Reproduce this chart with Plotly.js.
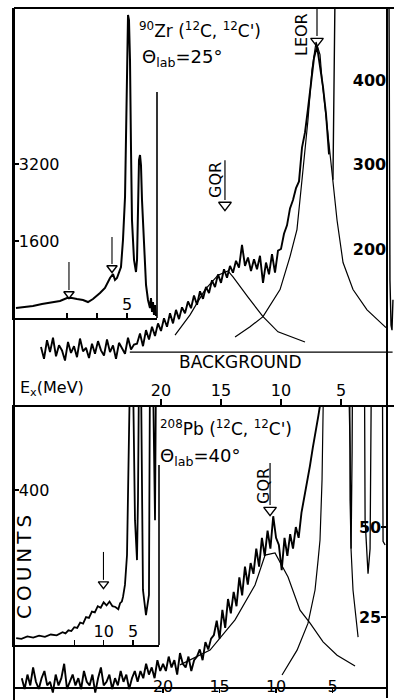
<!DOCTYPE html>
<html><head><meta charset="utf-8">
<script src="https://cdn.plot.ly/plotly-3.0.1.min.js"></script>
<style>html,body{margin:0;padding:0;background:#fff}#chart{width:394px;height:700px}</style>
</head><body><div id="chart"></div>
<script>
// ===== 90Zr(12C,12C') theta_lab = 25 deg =====
// main spectrum: Ex bins (MeV) starting value and bin step, counts per bin
const zrMainStartE = 30.0;
const zrMainBinE = -0.25;
const zrMainCounts = [84,70,92,78,95,73,86,80,68,90,77,85,72,94,79,83,71,88,76,91,80,74,93,78,86,70,89,82,76,95,81,87,
  88,100,85,104,93,108,97,112,
  103,118,108,124,112,128,117,131,
  124,138,130,145,134,150,141,155,
  148,163,155,170,160,176,166,180,
  172,186,178,205,180,190,174,188,
  176,192,160,184,170,194,172,198,
  200,218,228,248,258,272,280,320,338,366,398,426,440,418,392,360,312];
const zrTailE = [5.67, 5.5, 1.0, 0.92, 0.83, 0.75, 0.67];
const zrTailCounts = [282, 500, 500, 163, 110, 104, 140];
const zrGqrFitE = [18.83, 17.58, 16.33, 15.25, 14.42, 14.0, 12.75, 11.5, 10.25, 8.0];
const zrGqrFitCounts = [98, 122, 152, 169, 174, 167, 143, 120, 102, 90];
const zrLeorFitE = [13.83, 12.58, 11.5, 10.08, 9.25, 8.67, 8.25, 7.75, 7.42, 7.08, 6.75, 6.58, 6.17, 5.67, 5.33, 4.83, 4.0, 2.83, 1.25];
const zrLeorFitCounts = [96, 108, 120, 152, 191, 223, 282, 353, 412, 445, 430, 400, 347, 282, 234, 184, 152, 128, 107];
const zrBackgroundE = [22.6, 0.7];
const zrBackgroundCounts = [78, 78];
const zrArrowE = [14.67, 7.0];
const zrArrowTop = [305, 485];
const zrArrowBase = [258, 452];
const zrArrowHead = [252, 446];
const zrMainTicksX = [20, 15, 10, 5];
const zrMainTicksY = [200, 300, 400];
// inset: full spectrum
const zrInsetE = [23.5, 22.0, 20.67, 19.17, 17.83, 16.17, 15.0, 14.17, 13.33, 12.33, 11.5, 10.67, 9.5, 8.67, 7.83, 7.33, 7.0, 6.67, 6.0, 5.67, 5.33, 5.17, 5.0, 4.83, 4.67, 4.5, 4.33, 4.17, 3.83, 3.5, 3.33, 3.17, 3.0, 2.83, 2.67, 2.5, 2.17, 1.83, 1.5, 1.17, 1.0, 0.83, 0.67, 0.5, 0.33, 0.17];
const zrInsetCounts = [208, 229, 249, 291, 312, 353, 416, 416, 395, 374, 332, 395, 520, 623, 831, 914, 790, 831, 1060, 1621, 2514, 4114, 5777, 6296, 6192, 5361, 3491, 2036, 1205, 956, 1205, 2452, 3283, 3387, 3179, 2452, 1413, 686, 374, 208, 416, 125, 332, 62, 270, 42];
const zrInsetArrowE = [14.67, 7.5];
const zrInsetArrowTop = [1164, 1683];
const zrInsetArrowBase = [582, 1122];
const zrInsetArrowHead = [499, 1039];
const zrInsetTicksX = [20, 15, 10, 5];
const zrInsetTickText = ['', '', '', '5'];
const zrInsetTicksY = [1600, 3200];

// ===== 208Pb(12C,12C') theta_lab = 40 deg =====
const pbMainStartE = 32.5;
const pbMainBinE = -0.25;
const pbMainCounts = [8,5,9,6,11,7,5,8,10,6,7,4,9,6,8,12,5,7,9,6,8,5,10,7,6,9,4,8,11,6,7,9,5,8,6,10,7,9,5,8,10,7,
  10,8,12,9,11,8,13,10,
  12,10,14,11,13,9,15,12,11,14,10,13,
  14,16,13,18,16,19,
  20,24,19,27,22,30,26,
  32,28,36,31,39,34,40,
  37,44,39,47,42,
  49,44,53,47,
  45,38,47,42,48,
  44,50,47,54,58,
  62,67,72,76,81,86];
const pbTailE = [5.9, 3.54, 3.45, 3.36, 3.27, 3.19, 2.21, 2.12, 1.86, 1.68, 1.50, 0.62, 0.53, 0.35];
const pbTailCounts = [120, 120, 71, 44, 71, 120, 120, 52, 37, 44, 120, 120, 46, 45];
const pbGqrFitE = [18.5, 15.84, 13.63, 11.86, 10.97, 10.09, 8.94, 7.88, 6.99, 5.84, 4.60, 3.01];
const pbGqrFitCounts = [11.7, 15.8, 24.2, 33.9, 42.2, 42.8, 36.1, 26.9, 23.3, 18.1, 14.4, 11.4];
const pbPeakFitE = [9.47, 8.14, 7.17, 6.55, 6.28, 6.11, 5.93, 5.84, 5.75, 3.63, 3.45, 3.45, 3.36, 3.19, 2.92, 2.74];
const pbPeakFitCounts = [8.9, 15.8, 23.3, 32.5, 40.8, 46.4, 63.1, 74.2, 100, 100, 71.4, 57.5, 43.6, 32.5, 24.2, 19.4];
const pbArrowE = [10.53];
const pbArrowTop = [67.8];
const pbArrowBase = [56.1];
const pbArrowHead = [54.7];
const pbMainTicksX = [20, 15, 10, 5];
const pbMainTicksY = [25, 50];
const pbInsetE = [24.9, 24.0, 23.0, 22.0, 21.0, 20.0, 19.0, 18.0, 17.0, 16.5, 16.0, 15.5, 15.0, 14.5, 14.0, 13.5, 13.0, 12.5, 12.0, 11.5, 11.0, 10.5, 10.0, 9.5, 9.0, 8.5, 8.0, 7.5, 7.2, 6.9, 6.7, 6.37, 6.02, 5.85, 5.68, 5.51, 5.0, 4.66, 4.32, 4.15, 3.98, 3.64, 3.30, 2.79, 2.28, 2.11, 1.60, 1.25, 1.08];
const pbInsetCounts = [18, 16, 22, 19, 24, 21, 27, 25, 33, 30, 38, 36, 46, 44, 58, 55, 72, 70, 86, 84, 100, 96, 110, 102, 112, 100, 98, 92, 108, 112, 124, 155, 232, 374, 529, 700, 700, 322, 219, 374, 700, 700, 142, 77, 129, 700, 700, 322, 700];
const pbInsetArrowE = [10.03];
const pbInsetArrowTop = [240];
const pbInsetArrowBase = [168];
const pbInsetArrowHead = [157];
const pbInsetTicksX = [20, 15, 10, 5];
const pbInsetTickText = ['', '', '10', '5'];
const pbInsetTicksY = [400];

// ===== layout helpers (pixel -> paper) =====
const W = 394, H = 700;
const fx = v => v / W;
const fy = v => 1 - v / H;
const FONT = 'DejaVu Sans';
const K = 'black';

function stems(E, top, base) {
  const x = [], y = [];
  E.forEach((e, i) => { x.push(e, e, null); y.push(top[i], base[i], null); });
  return {x, y};
}
function lineTrace(x, y, xa, ya, w) {
  return {type: 'scatter', mode: 'lines', x, y, xaxis: xa, yaxis: ya,
    line: {color: K, width: w}, hoverinfo: 'skip', showlegend: false, cliponaxis: true};
}
function headTrace(x, y, xa, ya, s) {
  return {type: 'scatter', mode: 'markers', x, y, xaxis: xa, yaxis: ya,
    marker: {symbol: 'triangle-down-open', size: s, color: K, line: {color: K, width: 1.4}},
    hoverinfo: 'skip', showlegend: false};
}

const zrStem = stems(zrArrowE, zrArrowTop, zrArrowBase);
const zrIStem = stems(zrInsetArrowE, zrInsetArrowTop, zrInsetArrowBase);
const pbStem = stems(pbArrowE, pbArrowTop, pbArrowBase);
const pbIStem = stems(pbInsetArrowE, pbInsetArrowTop, pbInsetArrowBase);

const traces = [
  // Zr main
  Object.assign(lineTrace(null, zrMainCounts, 'x', 'y', 1.9), {x0: zrMainStartE, dx: zrMainBinE}),
  lineTrace(zrTailE, zrTailCounts, 'x', 'y', 1.4),
  lineTrace(zrGqrFitE, zrGqrFitCounts, 'x', 'y', 1.2),
  lineTrace(zrLeorFitE, zrLeorFitCounts, 'x', 'y', 1.2),
  lineTrace(zrBackgroundE, zrBackgroundCounts, 'x', 'y', 1.2),
  lineTrace(zrStem.x, zrStem.y, 'x', 'y', 1.2),
  headTrace(zrArrowE, zrArrowHead, 'x', 'y', 11),
  // Zr inset
  lineTrace(zrInsetE, zrInsetCounts, 'x2', 'y2', 2.0),
  lineTrace(zrIStem.x, zrIStem.y, 'x2', 'y2', 1.1),
  headTrace(zrInsetArrowE, zrInsetArrowHead, 'x2', 'y2', 9),
  // Pb main
  Object.assign(lineTrace(null, pbMainCounts, 'x3', 'y3', 1.9), {x0: pbMainStartE, dx: pbMainBinE}),
  lineTrace(pbTailE, pbTailCounts, 'x3', 'y3', 1.3),
  lineTrace(pbGqrFitE, pbGqrFitCounts, 'x3', 'y3', 1.2),
  lineTrace(pbPeakFitE, pbPeakFitCounts, 'x3', 'y3', 1.2),
  lineTrace(pbStem.x, pbStem.y, 'x3', 'y3', 1.2),
  headTrace(pbArrowE, pbArrowHead, 'x3', 'y3', 11),
  // Pb inset
  lineTrace(pbInsetE, pbInsetCounts, 'x4', 'y4', 1.8),
  lineTrace(pbIStem.x, pbIStem.y, 'x4', 'y4', 1.1),
  headTrace(pbInsetArrowE, pbInsetArrowHead, 'x4', 'y4', 9),
  // carrier for the tick-label axis of the lower panel
  {type: 'scatter', mode: 'lines', x: [null], y: [null], xaxis: 'x5', yaxis: 'y3', showlegend: false, hoverinfo: 'skip'}
];

const base = {showgrid: false, zeroline: false, showline: true, linecolor: K, linewidth: 1.6,
  tickcolor: K, tickwidth: 1.4, tickfont: {family: FONT, size: 16, color: K}, fixedrange: true};

const layout = {
  width: W, height: H, margin: {l: 0, r: 0, t: 0, b: 0},
  paper_bgcolor: 'white', plot_bgcolor: 'rgba(0,0,0,0)',
  font: {family: FONT, color: K}, showlegend: false,
  xaxis: Object.assign({}, base, {domain: [fx(14), 1], range: [32.25, 0.583], anchor: 'y',
    ticks: 'inside', ticklen: 6, tickvals: zrMainTicksX, ticklabelposition: 'inside'}),
  yaxis: Object.assign({}, base, {domain: [fy(405), fy(8)], range: [15.4, 485.2], anchor: 'free',
    position: fx(386), side: 'right', ticks: '', tickvals: zrMainTicksY, ticklabelposition: 'inside',
    tickfont: {family: FONT, size: 16, color: K, weight: 'bold'}}),
  xaxis2: Object.assign({}, base, {domain: [fx(14), fx(157)], range: [23.83, 0], anchor: 'y2',
    ticks: 'inside', ticklen: 5, tickvals: zrInsetTicksX, ticktext: zrInsetTickText, ticklabelposition: 'inside'}),
  yaxis2: Object.assign({}, base, {domain: [fy(318), fy(8)], range: [0, 6442], anchor: 'x2',
    ticks: 'inside', ticklen: 5, tickvals: zrInsetTicksY, ticklabelposition: 'inside'}),
  xaxis3: Object.assign({}, base, {domain: [fx(14), fx(386)], range: [33.19, 0.27], anchor: 'free',
    position: fy(687), ticks: 'outside', ticklen: 4, tickvals: pbMainTicksX, showticklabels: false}),
  yaxis3: Object.assign({}, base, {domain: [fy(698), fy(405)], range: [2.5, 83.9], anchor: 'free',
    position: fx(386), side: 'right', ticks: 'inside', ticklen: 5, tickvals: pbMainTicksY,
    ticklabelposition: 'inside', tickfont: {family: FONT, size: 16, color: K, weight: 'bold'}}),
  xaxis5: Object.assign({}, base, {overlaying: 'x3', domain: [fx(14), fx(386)], range: [33.19, 0.27],
    anchor: 'free', position: fy(698), showline: false, ticks: '', tickvals: pbMainTicksX,
    ticklabelposition: 'inside'}),
  xaxis4: Object.assign({}, base, {domain: [fx(14), fx(159)], range: [25.27, 0.57], anchor: 'y4',
    ticks: 'inside', ticklen: 5, tickvals: pbInsetTicksX, ticktext: pbInsetTickText, ticklabelposition: 'inside'}),
  yaxis4: Object.assign({}, base, {domain: [fy(645), fy(405)], range: [0, 619], anchor: 'x4',
    ticks: 'inside', ticklen: 5, tickvals: pbInsetTicksY, ticklabelposition: 'inside'}),
  shapes: [
    {type: 'line', xref: 'paper', yref: 'paper', x0: fx(14), x1: fx(14), y0: 0, y1: fy(8), line: {color: K, width: 2}},
    {type: 'line', xref: 'paper', yref: 'paper', x0: fx(14), x1: 1, y0: fy(8), y1: fy(8), line: {color: K, width: 2}},
    {type: 'line', xref: 'paper', yref: 'paper', x0: fx(157), x1: fx(157), y0: fy(318), y1: fy(92), line: {color: K, width: 1.6}},
    {type: 'line', xref: 'paper', yref: 'paper', x0: fx(159), x1: fx(159), y0: fy(645), y1: fy(465), line: {color: K, width: 1.6}}
  ],
  annotations: [
    {text: "<sup>90</sup>Zr (<sup>12</sup>C, <sup>12</sup>C')", x: fx(137), y: fy(30), xanchor: 'left', yanchor: 'middle', font: {size: 17}},
    {text: "Θ<sub>lab</sub>=25°", x: fx(140), y: fy(58), xanchor: 'left', yanchor: 'middle', font: {size: 18}},
    {text: "<sup>208</sup>Pb (<sup>12</sup>C, <sup>12</sup>C')", x: fx(158), y: fy(428), xanchor: 'left', yanchor: 'middle', font: {size: 17}},
    {text: "Θ<sub>lab</sub>=40°", x: fx(158), y: fy(457), xanchor: 'left', yanchor: 'middle', font: {size: 18}},
    {text: "GQR", x: fx(216), y: fy(180), xanchor: 'center', yanchor: 'middle', textangle: -90, font: {size: 16}},
    {text: "LEOR", x: fx(301), y: fy(35), xanchor: 'center', yanchor: 'middle', textangle: -90, font: {size: 16}},
    {text: "GQR", x: fx(263), y: fy(486), xanchor: 'center', yanchor: 'middle', textangle: -90, font: {size: 16}},
    {text: "E<sub>x</sub>(MeV)", x: fx(18), y: fy(388), xanchor: 'left', yanchor: 'middle', font: {size: 16}},
    {text: "BACKGROUND", x: fx(177), y: fy(362), xanchor: 'left', yanchor: 'middle', font: {size: 17}},
    {text: "C\u2009O\u2009U\u2009N\u2009T\u2009S", x: fx(24), y: fy(567), xanchor: 'center', yanchor: 'middle', textangle: -90, font: {size: 20}}
  ].map(a => Object.assign({xref: 'paper', yref: 'paper', showarrow: false}, a, {font: Object.assign({family: FONT, color: K}, a.font)}))
};

Plotly.newPlot('chart', traces, layout, {staticPlot: true, displayModeBar: false});
</script>
</body></html>
